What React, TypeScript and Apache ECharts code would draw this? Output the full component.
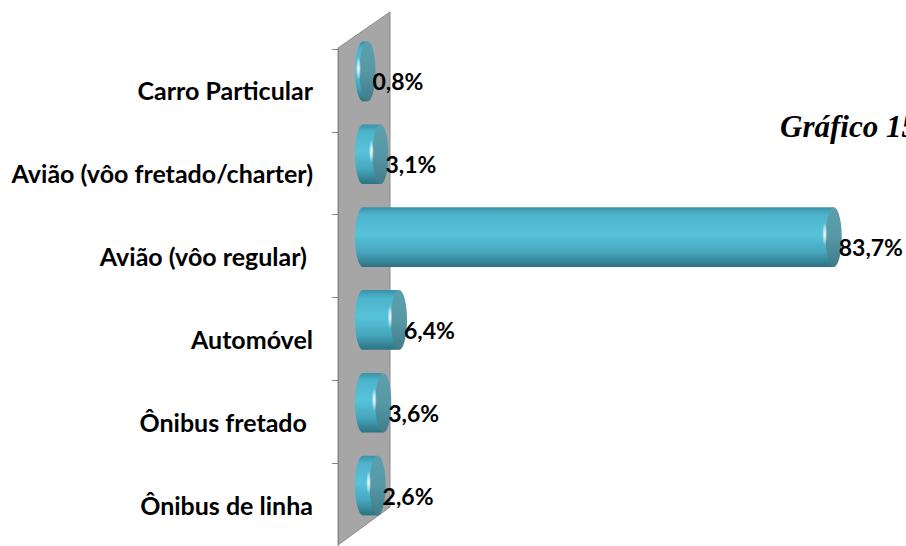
import React, { useEffect, useRef } from "react";
import * as echarts from "echarts";

const categories = [
  "Carro Particular",
  "Avião (vôo fretado/charter)",
  "Avião (vôo regular) ",
  "Automóvel",
  "Ônibus fretado ",
  "Ônibus de linha",
];
const values = [0.8, 3.1, 83.7, 6.4, 3.6, 2.6];
const titleText = "Gráfico 15";

const DEPTH_X = 25;
const DEPTH_Y = 19;
const CAP_RX = 8;

export default function App() {
  const ref = useRef<HTMLDivElement>(null);
  useEffect(() => {
    if (!ref.current) return;
    const chart = echarts.init(ref.current, undefined, { renderer: "svg" });
    const data = values.map((v, i) => [v, i]);
    const option: any = {
      animation: false,
      backgroundColor: "#ffffff",
      title: {
        text: titleText,
        left: 775,
        top: 106,
        textStyle: {
          fontFamily: "Liberation Serif",
          fontStyle: "italic",
          fontWeight: "bold",
          fontSize: 31,
          color: "#000000",
        },
      },
      graphic: [
        {
          type: "polygon",
          z: -10,
          silent: true,
          shape: {
            points: [
              [338, 48],
              [390, 12],
              [390, 507],
              [338, 545],
            ],
          },
          style: { fill: "#a6a6a6", stroke: "#8c8c8c", lineWidth: 1 },
        },
      ],
      grid: { left: 338, right: 0, top: 49, bottom: -3 },
      xAxis: { type: "value", min: 0, max: 101, show: false },
      yAxis: {
        type: "category",
        data: categories,
        inverse: true,
        axisLine: { show: true, lineStyle: { color: "#868686", width: 1 } },
        axisTick: { show: true, length: 6, lineStyle: { color: "#868686" } },
        axisLabel: {
          margin: 25,
          fontFamily: "Lato",
          fontWeight: "bold",
          fontSize: 25,
          color: "#000000",
          padding: [7, 0, 0, 0],
        },
        splitLine: { show: false },
      },
      series: [
        {
          type: "custom",
          encode: { x: 0, y: 1 },
          data,
          renderItem: (params: any, api: any) => {
            const v = api.value(0);
            const cat = api.value(1);
            const p0 = api.coord([0, cat]);
            const p1 = api.coord([v, cat]);
            const band = api.size([0, 1])[1];
            const h = band * 0.72;
            const ry = h / 2;
            const cy = p0[1] - DEPTH_Y;
            const x0 = p0[0] + DEPTH_X;
            const x1 = p1[0] + DEPTH_X;
            const bodyGrad = new echarts.graphic.LinearGradient(0, 0, 0, 1, [
              { offset: 0, color: "#3a92a7" },
              { offset: 0.12, color: "#4cb3ca" },
              { offset: 0.45, color: "#57c3db" },
              { offset: 0.75, color: "#46a7bd" },
              { offset: 1, color: "#2d7182" },
            ]);
            const capGrad = new echarts.graphic.LinearGradient(0, 0, 0, 1, [
              { offset: 0, color: "#5c9fad" },
              { offset: 0.5, color: "#5698a6" },
              { offset: 1, color: "#407c8a" },
            ]);
            const hlGrad = new echarts.graphic.RadialGradient(0.5, 0.5, 0.5, [
              { offset: 0, color: "rgba(255,255,255,0.95)" },
              { offset: 0.6, color: "rgba(255,255,255,0.45)" },
              { offset: 1, color: "rgba(255,255,255,0)" },
            ]);
            const label = v.toFixed(1).replace(".", ",") + "%";
            return {
              type: "group",
              children: [
                {
                  type: "ellipse",
                  shape: { cx: x0, cy, rx: CAP_RX, ry },
                  style: { fill: bodyGrad },
                },
                {
                  type: "rect",
                  shape: { x: x0, y: cy - ry, width: Math.max(x1 - x0, 0), height: h },
                  style: { fill: bodyGrad },
                },
                {
                  type: "ellipse",
                  shape: { cx: x1, cy, rx: CAP_RX, ry },
                  style: { fill: capGrad },
                },
                {
                  type: "ellipse",
                  shape: { cx: x1 - CAP_RX - 1, cy: cy - 3, rx: 2.5, ry: ry * 0.4 },
                  style: { fill: hlGrad },
                },
                {
                  type: "text",
                  style: {
                    x: x1 + CAP_RX - 3,
                    y: cy + 10,
                    text: label,
                    fontFamily: "Lato",
                    fontWeight: "bold",
                    fontSize: 23,
                    fill: "#000000",
                    align: "left",
                    verticalAlign: "middle",
                  },
                },
              ],
            };
          },
        },
      ],
    };
    chart.setOption(option);
    return () => chart.dispose();
  }, []);
  return (
    <div
      ref={ref}
      style={{ position: "absolute", left: 0, top: 0, width: 906, height: 546 }}
    />
  );
}
